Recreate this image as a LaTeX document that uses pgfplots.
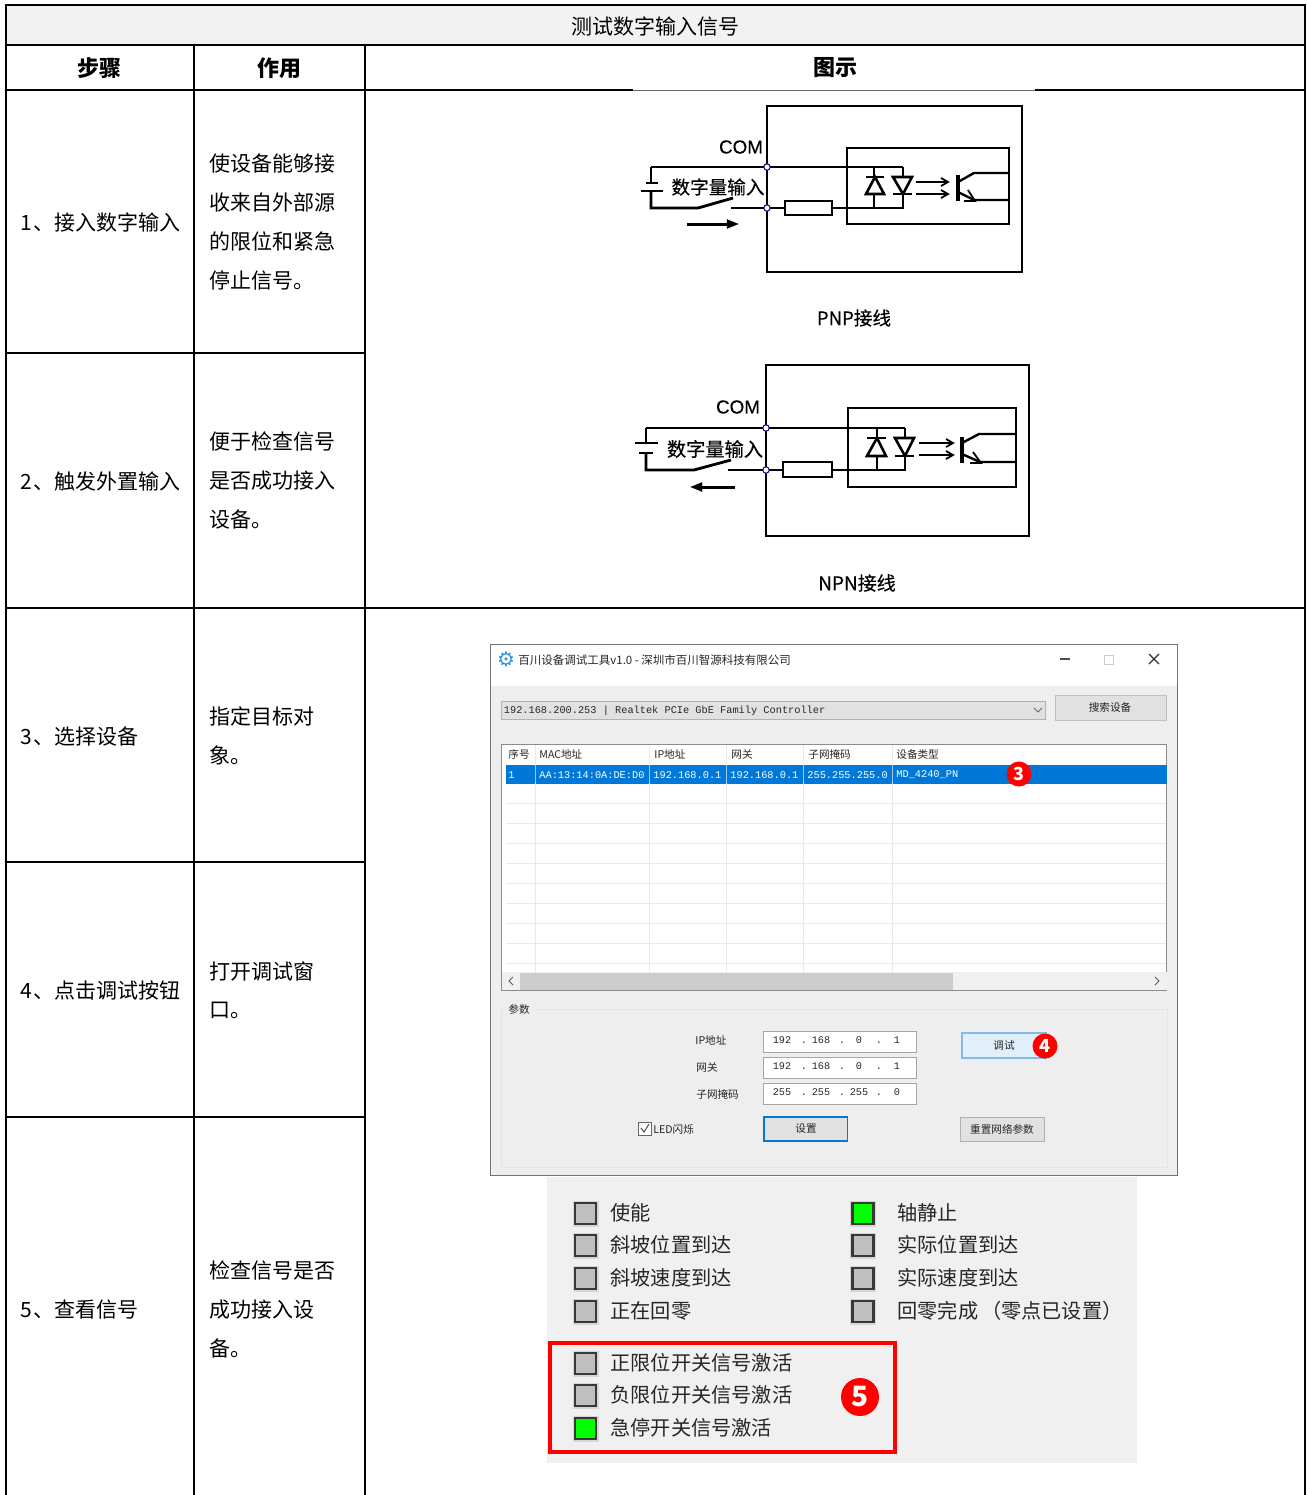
\documentclass[border=0pt]{standalone}
\usepackage{fontspec}
\usepackage{pgfplots}
\pgfplotsset{compat=1.18}
\usetikzlibrary{arrows.meta}
\setmainfont{Noto Sans CJK SC}
\newfontfamily\med[FakeBold=0.35]{Noto Sans CJK SC}
\newfontfamily\dv{DejaVu Sans}
\newfontfamily\lib[FakeBold=0.35]{Liberation Sans}
\newfontfamily\mono{Liberation Mono}
\definecolor{hdr}{HTML}{F2F2F2}
\definecolor{panel}{HTML}{F0F0F0}
\definecolor{win}{HTML}{EEEEEE}
\definecolor{sel}{HTML}{0078D7}
\definecolor{btn}{HTML}{E1E1E1}
\definecolor{grid}{HTML}{E9E9E9}
\definecolor{led}{HTML}{BFBFBF}
\definecolor{txt}{HTML}{262626}
% polyline: [width px]{colour}{coords}
\newcommand{\W}[3][2.8]{\addplot[color=#2,line width=#1*0.5pt,no markers,forget plot] coordinates {#3};}
% rectangle: fill, draw, width px, x1,y1,x2,y2
\newcommand{\R}[7]{\addplot[fill=#1,draw=#2,line width=#3*0.5pt,no markers,forget plot] coordinates {(#4,#5)(#6,#5)(#6,#7)(#4,#7)} --cycle;}
\newcommand{\TW}[3]{\node[anchor=west,inner sep=0pt,font=\fontsize{10.5pt}{12pt}\selectfont,text=black] at (axis cs:#1,#2+0.6) {#3};}
\newcommand{\TC}[3]{\node[anchor=center,inner sep=0pt,font=\fontsize{10.5pt}{12pt}\selectfont,text=black] at (axis cs:#1,#2) {#3};}
\newcommand{\TB}[3]{\node[anchor=center,inner sep=0pt,font=\fontsize{11pt}{12pt}\selectfont\bfseries,text=black] at (axis cs:#1,#2) {#3};}
% small app text
\newcommand{\AW}[3]{\node[anchor=west,inner sep=0pt,font=\fontsize{5.3pt}{6pt}\selectfont,text=txt] at (axis cs:#1,#2) {#3};}
\newcommand{\AC}[3]{\node[anchor=center,inner sep=0pt,font=\fontsize{5.3pt}{6pt}\selectfont,text=txt] at (axis cs:#1,#2) {#3};}
\newcommand{\AM}[4][txt]{\node[anchor=west,inner sep=0pt,font=\fontsize{5.15pt}{6pt}\selectfont\mono,text=#1] at (axis cs:#2,#3+1) {#4};}
\newcommand{\AN}[3]{\node[anchor=center,inner sep=0pt,font=\fontsize{5.1pt}{6pt}\selectfont\mono,text=txt] at (axis cs:#1,#2) {#3};}
\newcommand{\AD}[2]{\node[anchor=center,inner sep=0pt,font=\fontsize{5.1pt}{6pt}\selectfont\mono,text=txt] at (axis cs:#1,#2+3) {.};}
% status panel: x1,y1,x2,y2,colour
\newcommand{\LED}[5]{\R{#5}{black!16}{5}{#1}{#2}{#3}{#4}\R{#5}{black!78}{2.8}{#1}{#2}{#3}{#4}}
\newcommand{\ST}[3]{\node[anchor=west,inner sep=0pt,font=\fontsize{10.1pt}{12pt}\selectfont,text=txt] at (axis cs:#1,#2) {#3};}
% x,y,diameter pt,font pt,label
\newcommand{\NUM}[5]{\node[circle,fill=red,minimum size=#3pt,inner sep=0pt,text=white,font=\fontsize{#4pt}{10pt}\selectfont\bfseries] at (axis cs:#1,#2) {#5};}
\begin{document}
\begin{tikzpicture}
\begin{axis}[
  scale only axis, width=653.5pt, height=747.5pt,
  xmin=0, xmax=1307, ymin=0, ymax=1495, y dir=reverse,
  hide axis, clip=true]
\R{white}{white}{0}{0}{0}{1307}{1495}
% ---- table
\R{hdr}{black}{1.6}{6}{5}{1305}{45}
\W[1.6]{black}{(6,45)(6,1495)}
\W[1.6]{black}{(1305,45)(1305,1495)}
\W[1.6]{black}{(194,45)(194,1495)}
\W[1.6]{black}{(365,45)(365,1495)}
\W[1.6]{black}{(6,90)(633,90)}
\W[1]{black!60}{(633,90)(1035,90)}
\W[1.6]{black}{(1035,90)(1305,90)}
\W[1.6]{black}{(6,353)(365,353)}
\W[1.6]{black}{(6,608)(1305,608)}
\W[1.6]{black}{(6,862)(365,862)}
\W[1.6]{black}{(6,1117)(365,1117)}
\TC{655}{26}{测试数字输入信号}
\TB{100}{68}{步骤}
\TB{279}{68}{作用}
\TB{835}{68}{图示}
\TW{20}{222}{1\kern0.5pt、接入数字输入}
\TW{20}{481}{2\kern0.5pt、触发外置输入}
\TW{20}{736}{3\kern0.5pt、选择设备}
\TW{20}{990}{4\kern0.5pt、点击调试按钮}
\TW{20}{1309}{5\kern0.5pt、查看信号}
\TW{209}{163}{使设备能够接}
\TW{209}{202}{收来自外部源}
\TW{209}{241}{的限位和紧急}
\TW{209}{280}{停止信号。}
\TW{209}{441}{便于检查信号}
\TW{209}{480}{是否成功接入}
\TW{209}{519}{设备。}
\TW{209}{716}{指定目标对}
\TW{209}{755}{象。}
\TW{209}{971}{打开调试窗}
\TW{209}{1010}{口。}
\TW{209}{1270}{检查信号是否}
\TW{209}{1309}{成功接入设}
\TW{209}{1348}{备。}
% ---- PNP diagram
\R{none}{black}{2.9}{767}{106}{1022}{272}
\R{none}{black}{2.7}{847}{148}{1009}{224}
\W{black}{(651,167)(903,167)}
\W{black}{(651,167)(651,183)}
\W{black}{(646,183)(658,183)}
\W{black}{(641,191)(663,191)}
\W{black}{(651,191)(651,208)(698,208)(733,198)}
\W{black}{(731,208)(785,208)}
\R{white}{black}{2.7}{785}{201}{832}{215}
\W{black}{(832,208)(903,208)(903,167)}
\W[2.4]{black}{(874,167)(874,208)}
\addplot[fill=white,draw=black,line width=1.3pt,forget plot,no markers] coordinates {(875,177)(884,194)(866,194)} --cycle;
\W[2.6]{black}{(866,177)(884,177)}
\addplot[fill=white,draw=black,line width=1.3pt,forget plot,no markers] coordinates {(903,194)(893,177)(912,177)} --cycle;
\W[2.6]{black}{(893,194)(912,194)}
\W[1.8]{black}{(916,182)(948,182)}
\W[1.8]{black}{(916,194)(948,194)}
\W[1.8]{black}{(941,178)(948,182)(941,186)}
\W[1.8]{black}{(941,190)(948,194)(941,198)}
\W[3.6]{black}{(958,175)(958,201)}
\W[2.4]{black}{(958,182)(974,173)(1009,173)}
\W[2.4]{black}{(958,192)(974,200)(1009,200)}
\W[1.8]{black}{(968,190)(975,201)(964,201)}
\addplot[only marks,forget plot,mark=*,mark size=1.6pt,mark options={fill=white,draw=blue!50!black,line width=0.5pt}] coordinates {(767,167)(767,208)};
\W[3]{black}{(687,224)(730,224)}
\addplot[fill=black,draw=black,line width=0.2pt,forget plot,no markers] coordinates {(727,219.5)(738,224)(727,228.5)} --cycle;
\node[inner sep=0pt,font=\fontsize{9.4pt}{10pt}\selectfont\lib] at (axis cs:741,147) {COM};
\node[inner sep=0pt,font=\fontsize{9.3pt}{10pt}\selectfont\med,anchor=center] at (axis cs:718,187) {数字量输入};
\node[inner sep=0pt,font=\fontsize{9.3pt}{10pt}\selectfont\med] at (axis cs:854,318) {PNP接线};
% ---- NPN diagram
\R{none}{black}{2.9}{766}{365}{1029}{536}
\R{none}{black}{2.7}{848}{408}{1016}{487}
\W{black}{(646,428)(905,428)}
\W{black}{(646,428)(646,443)}
\W{black}{(635,443)(658,443)}
\W{black}{(639,453)(653,453)}
\W{black}{(646,453)(646,470)(694,470)(731,460)}
\W{black}{(728,470)(783,470)}
\R{white}{black}{2.7}{783}{462}{832}{477}
\W{black}{(832,470)(905,470)(905,428)}
\W[2.4]{black}{(877,428)(877,470)}
\addplot[fill=white,draw=black,line width=1.3pt,forget plot,no markers] coordinates {(877,438)(886,456)(867,456)} --cycle;
\W[2.6]{black}{(867,438)(886,438)}
\addplot[fill=white,draw=black,line width=1.3pt,forget plot,no markers] coordinates {(905,456)(895,438)(914,438)} --cycle;
\W[2.6]{black}{(895,456)(914,456)}
\W[1.8]{black}{(919,443)(953,443)}
\W[1.8]{black}{(919,455)(953,455)}
\W[1.8]{black}{(946,439)(953,443)(946,447)}
\W[1.8]{black}{(946,451)(953,455)(946,459)}
\W[3.6]{black}{(962,437)(962,463)}
\W[2.4]{black}{(962,443)(979,434)(1016,434)}
\W[2.4]{black}{(962,454)(980,462)(1016,462)}
\W[1.8]{black}{(973,452)(981,463)(970,463)}
\addplot[only marks,forget plot,mark=*,mark size=1.6pt,mark options={fill=white,draw=blue!50!black,line width=0.5pt}] coordinates {(766,428)(766,470)};
\W[3]{black}{(735,487)(698,487)}
\addplot[fill=black,draw=black,line width=0.2pt,forget plot,no markers] coordinates {(702,482.5)(691,487)(702,491.5)} --cycle;
\node[inner sep=0pt,font=\fontsize{9.4pt}{10pt}\selectfont\lib] at (axis cs:738,407) {COM};
\node[inner sep=0pt,font=\fontsize{9.6pt}{10pt}\selectfont\med] at (axis cs:715,449) {数字量输入};
\node[inner sep=0pt,font=\fontsize{9.5pt}{10pt}\selectfont\med] at (axis cs:857,583) {NPN接线};
% ---- application window
\R{white}{white}{0}{491}{645}{1177}{686}
\R{win}{win}{0}{491}{686}{1177}{1175}
\W[1]{black!55}{(490,644)(1177.5,644)(1177.5,1175.5)(490,1175.5)(490,644)}
\node[inner sep=0pt,font=\fontsize{10pt}{10pt}\selectfont\dv,text=sel!80] at (axis cs:506,659.5) {⚙};
\node[anchor=west,inner sep=0pt,font=\fontsize{5.75pt}{6pt}\selectfont,text=txt] at (axis cs:518,660) {百川设备调试工具v1.0 - 深圳市百川智源科技有限公司};
\W[1.2]{black!70}{(1060,659)(1070,659)}
\R{none}{black!20}{1}{1104}{655}{1113}{664}
\W[1.2]{black!80}{(1149,654)(1159,664)}
\W[1.2]{black!80}{(1159,654)(1149,664)}
% combo + search
\R{btn}{black!30}{1}{501}{701}{1045}{719}
\AM{503.5}{710}{192.168.200.253 | Realtek PCIe GbE Family Controller}
\W[0.8]{black!60}{(1034,708)(1038,712)(1042,708)}
\R{btn}{black!25}{1}{1055}{695}{1166}{720}
\AC{1110}{707.5}{搜索设备}
% list
\R{white}{black!45}{1}{501}{744}{1166.5}{990}
\R{sel}{sel}{0}{506}{765}{1166}{783}
\W[0.7]{grid}{(506,803)(1166,803)}
\W[0.7]{grid}{(506,823)(1166,823)}
\W[0.7]{grid}{(506,843)(1166,843)}
\W[0.7]{grid}{(506,863)(1166,863)}
\W[0.7]{grid}{(506,883)(1166,883)}
\W[0.7]{grid}{(506,903)(1166,903)}
\W[0.7]{grid}{(506,923)(1166,923)}
\W[0.7]{grid}{(506,943)(1166,943)}
\W[0.7]{grid}{(506,963)(1166,963)}
\W[0.7]{grid}{(535,745)(535,972)}
\W[0.7]{grid}{(649,745)(649,972)}
\W[0.7]{grid}{(726,745)(726,972)}
\W[0.7]{grid}{(803,745)(803,972)}
\W[0.7]{grid}{(892,745)(892,972)}
\W[0.7]{white!60!sel}{(535,765)(535,783)}
\W[0.7]{white!60!sel}{(649,765)(649,783)}
\W[0.7]{white!60!sel}{(726,765)(726,783)}
\W[0.7]{white!60!sel}{(803,765)(803,783)}
\W[0.7]{white!60!sel}{(892,765)(892,783)}
\AW{508}{754.5}{序号}
\AW{539}{754.5}{MAC地址}
\AW{654}{754.5}{IP地址}
\AW{731}{754.5}{网关}
\AW{808}{754.5}{子网掩码}
\AW{896}{754.5}{设备类型}
\AM[white]{508}{774}{1}
\AM[white]{539}{774}{AA:13:14:0A:DE:D0}
\AM[white]{653}{774}{192.168.0.1}
\AM[white]{730}{774}{192.168.0.1}
\AM[white]{807}{774}{255.255.255.0}
\AM[white]{896}{774}{MD\_4240\_PN}
\NUM{1019}{774}{12.5}{9}{3}
\R{panel}{panel}{0}{502}{972}{1166}{989}
\R{black!20}{black!20}{0}{520}{973}{952}{989}
\W[1]{black!65}{(513,977)(509,981)(513,985)}
\W[1]{black!65}{(1155,977)(1159,981)(1155,985)}
% parameter group
\R{none}{black!10}{1}{501}{1009}{1167}{1167}
\R{win}{win}{0}{506}{1003}{534}{1015}
\AW{508}{1009.5}{参数}
\AW{695}{1040}{IP地址}
\AW{696}{1067}{网关}
\AW{696}{1094}{子网掩码}
\R{white}{black!35}{1}{763}{1031}{916}{1052}
\R{white}{black!35}{1}{763}{1057}{916}{1078}
\R{white}{black!35}{1}{763}{1083}{916}{1104}
\AN{782}{1040}{192}\AD{804}{1040}\AN{821}{1040}{168}\AD{842}{1040}\AN{859}{1040}{0}\AD{879}{1040}\AN{897}{1040}{1}
\AN{782}{1066}{192}\AD{804}{1066}\AN{821}{1066}{168}\AD{842}{1066}\AN{859}{1066}{0}\AD{879}{1066}\AN{897}{1066}{1}
\AN{782}{1092}{255}\AD{804}{1092}\AN{821}{1092}{255}\AD{842}{1092}\AN{859}{1092}{255}\AD{879}{1092}\AN{897}{1092}{0}
\R{white!88!sel}{white!50!sel}{1.6}{962}{1033}{1046}{1058}
\AC{1004}{1045}{调试}
\NUM{1045}{1046}{12.5}{9}{4}
\R{white}{black!60}{1}{638}{1122}{651}{1135}
\W[1]{black!70}{(641,1128)(644,1132)(649,1124)}
\AW{653}{1129}{LED闪烁}
\R{btn}{sel}{1.6}{764}{1117}{847.5}{1141}
\AC{806}{1129}{设置}
\R{btn}{black!30}{1}{960}{1117}{1044}{1141}
\AC{1002}{1129}{重置网络参数}
% ---- status panel
\R{panel}{panel}{0}{547}{1177}{1136.5}{1462.5}
\LED{575}{1203}{596}{1224}{led}
\LED{575}{1235}{596}{1256}{led}
\LED{575}{1268}{596}{1289}{led}
\LED{575}{1301}{596}{1322}{led}
\LED{575}{1353}{596}{1374}{led}
\LED{575}{1385}{596}{1406}{led}
\LED{575}{1418}{596}{1439}{green}
\LED{852.5}{1203}{873.5}{1224}{green}
\LED{852.5}{1235}{873.5}{1256}{led}
\LED{852.5}{1268}{873.5}{1289}{led}
\LED{852.5}{1301}{873.5}{1322}{led}
\ST{610}{1213}{使能}
\ST{610}{1245}{斜坡位置到达}
\ST{610}{1278}{斜坡速度到达}
\ST{610}{1311}{正在回零}
\ST{610}{1363}{正限位开关信号激活}
\ST{610}{1395}{负限位开关信号激活}
\ST{610}{1428}{急停开关信号激活}
\ST{897}{1213}{轴静止}
\ST{897}{1245}{实际位置到达}
\ST{897}{1278}{实际速度到达}
\ST{897}{1311}{回零完成\kern1.5pt（零点已设置）}
\R{none}{red}{4.5}{550}{1343}{895}{1452}
\NUM{860}{1397}{19}{14}{5}
\end{axis}
\end{tikzpicture}
\end{document}
